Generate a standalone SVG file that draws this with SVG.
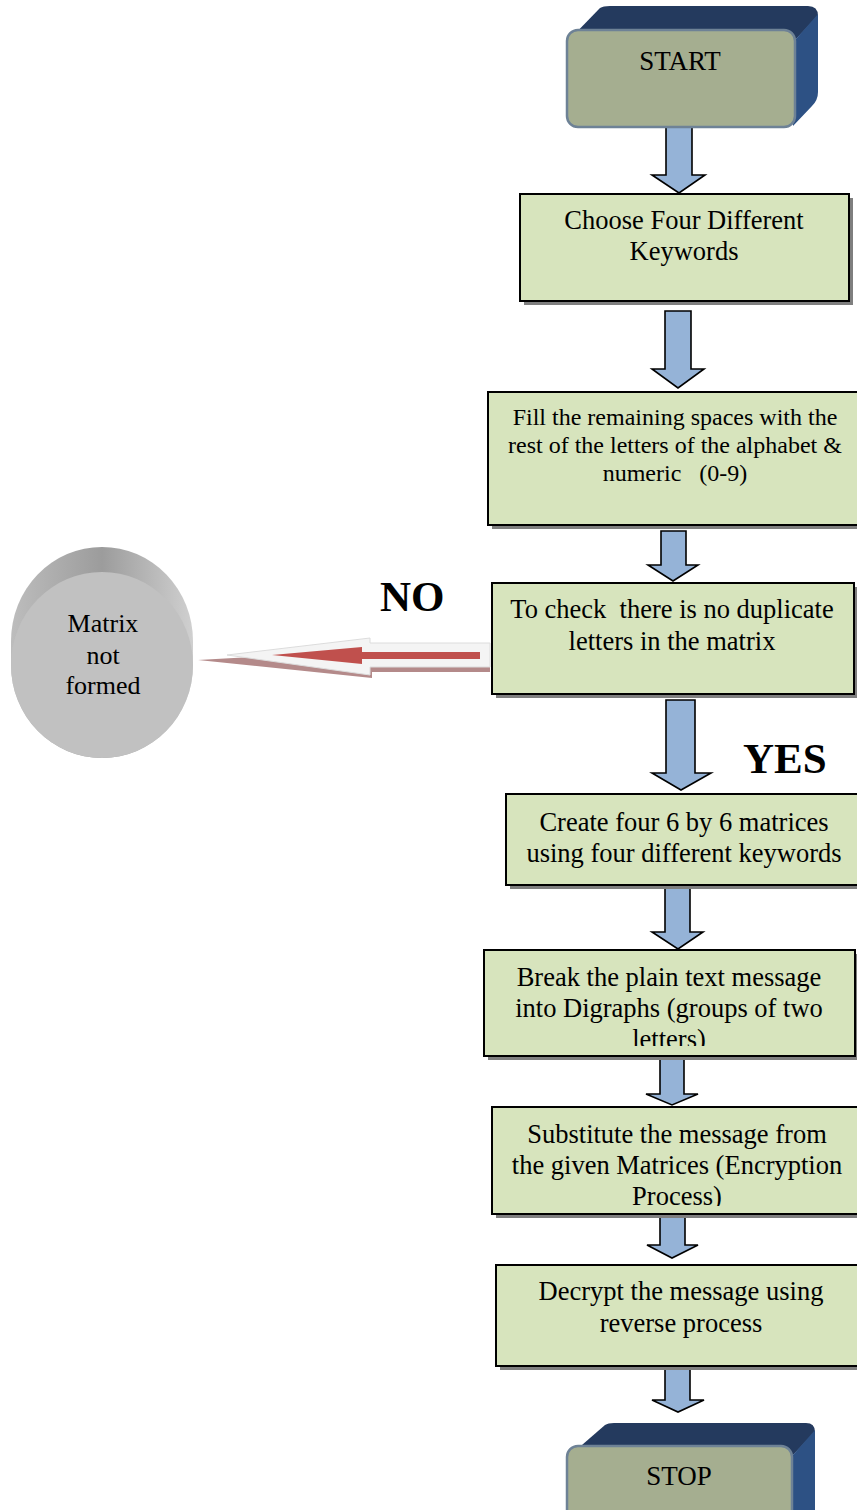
<svg xmlns="http://www.w3.org/2000/svg" width="857" height="1510" viewBox="0 0 857 1510">
<style>
.t{font-family:"Liberation Serif","Times New Roman",serif;fill:#000;text-anchor:middle;font-size:26.5px}
.s{font-size:24px}
.box{fill:#d7e4bd;stroke:#000;stroke-width:2}
.sh{fill:#7f7f7f}
.arr{fill:#95b3d7;stroke:#000;stroke-width:1.6;stroke-linejoin:miter}
.front{fill:#a5ae90;stroke:#6e8296;stroke-width:2.5}
.top{fill:#243a5e}
.side{fill:#2d5184}
.lbl{font-family:"Liberation Serif","Times New Roman",serif;font-weight:bold;fill:#000;font-size:43px}
</style>
<defs>
<linearGradient id="cylBack" x1="0" y1="0" x2="1" y2="0">
<stop offset="0" stop-color="#bdbdbd"/>
<stop offset="0.5" stop-color="#9c9c9c"/>
<stop offset="1" stop-color="#d0d0d0"/>
</linearGradient>
<clipPath id="c5"><rect x="484" y="950" width="372" height="96"/></clipPath>
<clipPath id="c6"><rect x="492" y="1107" width="365" height="99"/></clipPath>
</defs>
<rect width="857" height="1510" fill="#fff"/>

<g id="connectors">
<polygon class="arr" points="666,127 692,127 692,175 705,175 679,193 652,175 666,175"/>
<polygon class="arr" points="665,311 691,311 691,369 704,369 678,388 652,369 665,369"/>
<polygon class="arr" points="661,531 686,531 686,565 698,565 673,581 648,565 661,565"/>
<polygon class="arr" points="666,700 695,700 695,773 711,773 681,790 652,773 666,773"/>
<polygon class="arr" points="665,887 690,887 690,932 703,932 678,949 652,932 665,932"/>
<polygon class="arr" points="660,1057 684,1057 684,1094 698,1094 672,1105 646,1094 660,1094"/>
<polygon class="arr" points="660,1216 685,1216 685,1245 698,1245 672,1258 647,1245 660,1245"/>
<polygon class="arr" points="665,1368 690,1368 690,1400 704,1400 678,1412 652,1400 665,1400"/>
<g id="no-arrow">
<polygon points="198,660 372,650 372,655 490,655 490,672 372,672 372,678" fill="#b48a8a"/>
<polygon points="227,655 370,638 370,643 490,643 490,667 370,667 370,675" fill="#f4f4f4" stroke="#dcdcdc" stroke-width="1"/>
<polygon points="272,655 362,647 362,652 480,652 480,659 362,659 362,664" fill="#c0504d"/>
</g>
<text class="lbl" x="380" y="611">NO</text>
<text class="lbl" x="743" y="773">YES</text>
</g>

<g id="start">
<path class="top" d="M567,42 L600,8 Q603,6 610,6 L808,6 Q818,6 818,16 L795,40 Z"/>
<path class="side" d="M795,40 L818,14 L818,92 Q818,100 812,106 L793,126 Z"/>
<rect class="front" x="567" y="30" width="228" height="97" rx="11"/>
<text class="t" x="680" y="70" style="font-size:27px">START</text>
</g>

<g id="n1">
<rect class="sh" x="524" y="198" width="329" height="107"/>
<rect class="box" x="520" y="194" width="329" height="107"/>
<text class="t" x="684" y="229">Choose Four Different</text>
<text class="t" x="684" y="260">Keywords</text>
</g>

<g id="n2">
<rect class="sh" x="492" y="396" width="369" height="133"/>
<rect class="box" x="488" y="392" width="372" height="133"/>
<text class="t s" x="675" y="425">Fill the remaining spaces with the</text>
<text class="t s" x="675" y="453">rest of the letters of the alphabet &amp;</text>
<text class="t s" x="675" y="481" xml:space="preserve">numeric   (0-9)</text>
</g>

<g id="n3">
<rect class="sh" x="496" y="587" width="362" height="111"/>
<rect class="box" x="492" y="583" width="362" height="111"/>
<text class="t" x="672" y="618" xml:space="preserve">To check  there is no duplicate</text>
<text class="t" x="672" y="650">letters in the matrix</text>
</g>

<g id="matrix-not-formed">
<path d="M11,641 A90,93 0 0 1 193,641 L193,665 A91,93 0 0 1 11,665 Z" fill="url(#cylBack)"/>
<ellipse cx="102" cy="665" rx="91" ry="93" fill="#c1c1c1"/>
<text class="t" x="103" y="632" style="font-size:26px">Matrix</text>
<text class="t" x="103" y="664" style="font-size:26px">not</text>
<text class="t" x="103" y="694" style="font-size:26px">formed</text>
</g>

<g id="n4">
<rect class="sh" x="510" y="798" width="350" height="91"/>
<rect class="box" x="506" y="794" width="354" height="91"/>
<text class="t" x="684" y="831">Create four 6 by 6 matrices</text>
<text class="t" x="684" y="862">using four different keywords</text>
</g>

<g id="n5">
<rect class="sh" x="488" y="954" width="371" height="106"/>
<rect class="box" x="484" y="950" width="371" height="106"/>
<g clip-path="url(#c5)">
<text class="t" x="669" y="986">Break the plain text message</text>
<text class="t" x="669" y="1017">into Digraphs (groups of two</text>
<text class="t" x="669" y="1048">letters)</text>
</g>
</g>

<g id="n6">
<rect class="sh" x="496" y="1111" width="364" height="107"/>
<rect class="box" x="492" y="1107" width="368" height="107"/>
<g clip-path="url(#c6)">
<text class="t" x="677" y="1143">Substitute the message from</text>
<text class="t" x="677" y="1174">the given Matrices (Encryption</text>
<text class="t" x="677" y="1205">Process)</text>
</g>
</g>

<g id="n7">
<rect class="sh" x="500" y="1269" width="360" height="101"/>
<rect class="box" x="496" y="1265" width="364" height="101"/>
<text class="t" x="681" y="1300">Decrypt the message using</text>
<text class="t" x="681" y="1332">reverse process</text>
</g>

<g id="stop">
<path class="top" d="M567,1458 L605,1425 Q608,1423 614,1423 L806,1423 Q815,1423 815,1432 L792,1456 Z"/>
<path class="side" d="M792,1456 L815,1430 L815,1510 L792,1510 Z"/>
<rect class="front" x="567" y="1446" width="225" height="90" rx="11"/>
<text class="t" x="679" y="1485" style="font-size:27px">STOP</text>
</g>
</svg>
